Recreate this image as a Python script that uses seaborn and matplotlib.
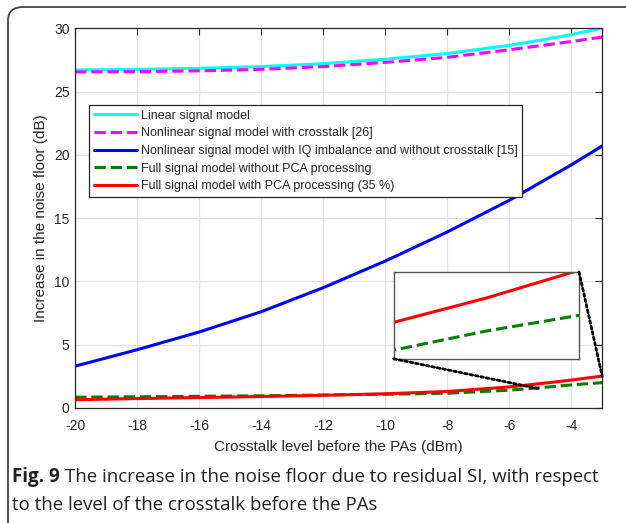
import numpy as np
import pandas as pd
import matplotlib
matplotlib.use("Agg")
import matplotlib.pyplot as plt
from matplotlib.patches import FancyBboxPatch, ConnectionPatch
import seaborn as sns

# -------------------------
# data
# -------------------------
crosstalk = [-20, -18, -16, -14, -12, -10, -8, -6, -5, -4, -3]
linear_model = [26.7, 26.75, 26.83, 26.97, 27.2, 27.55, 28.0, 28.65, 29.05, 29.5, 30.0]
nonlin_crosstalk = [26.55, 26.57, 26.63, 26.75, 26.97, 27.3, 27.7, 28.3, 28.62, 28.95, 29.3]
nonlin_iq = [3.3, 4.6, 6.0, 7.6, 9.5, 11.6, 13.9, 16.4, 17.8, 19.2, 20.7]
full_no_pca = [0.85, 0.88, 0.92, 0.96, 1.02, 1.08, 1.16, 1.4, 1.6, 1.82, 2.0]
full_pca = [0.65, 0.74, 0.82, 0.9, 1.0, 1.12, 1.3, 1.66, 1.92, 2.2, 2.52]

labels = ["Linear signal model",
          "Nonlinear signal model with crosstalk [26]",
          "Nonlinear signal model with IQ imbalance and without crosstalk [15]",
          "Full signal model without PCA processing",
          "Full signal model with PCA processing (35 %)"]
colors = ["#00FFFF", "#FF00FF", "#0000FF", "#008000", "#FF0000"]
styles = ["-", "--", "-", "--", "-"]
series = [linear_model, nonlin_crosstalk, nonlin_iq, full_no_pca, full_pca]

xticks = list(range(-20, -3, 2))
yticks = [0, 5, 10, 15, 20, 25, 30]

# -------------------------
# figure
# -------------------------
sns.set_style("white")
plt.rcParams['font.family'] = ['Liberation Sans', 'DejaVu Sans']
plt.rcParams['axes.unicode_minus'] = False

fig = plt.figure(figsize=(6.26, 5.23), dpi=100)
ax = fig.add_axes([0.120, 0.220, 0.842, 0.726])

for vals, lab, c, ls in zip(series, labels, colors, styles):
    sns.lineplot(x=crosstalk, y=vals, ax=ax, color=c, linestyle=ls, lw=2.2, label=lab)

ax.set_xlim(-20, -3)
ax.set_ylim(0, 30)
ax.set_xticks(xticks)
ax.set_yticks(yticks)
ax.grid(True, color="#e3e3e3", lw=0.9)
ax.tick_params(direction="in", length=5, color="#262626", labelsize=10,
               top=True, right=True, labeltop=False, labelright=False)
ax.tick_params(axis="x", pad=8)
ax.tick_params(axis="y", pad=4)
for s in ax.spines.values():
    s.set_color("#262626")
    s.set_linewidth(0.9)
ax.set_xlabel("Crosstalk level before the PAs (dBm)", fontsize=11, labelpad=5)
ax.set_ylabel("Increase in the noise floor (dB)", fontsize=11, labelpad=4)

leg = ax.legend(loc="upper left", bbox_to_anchor=(0.027, 0.797), fontsize=9,
                frameon=True, fancybox=False, framealpha=1, handlelength=3.5,
                handletextpad=0.3, borderpad=0.35, labelspacing=0.45, borderaxespad=0)
leg.get_frame().set_edgecolor("#262626")
leg.get_frame().set_linewidth(0.9)

# inset zoom on the end of the two lowest curves
axins = fig.add_axes([0.629, 0.314, 0.296, 0.166])
for vals, c, ls in zip(series[3:], colors[3:], styles[3:]):
    sns.lineplot(x=crosstalk, y=vals, ax=axins, color=c, linestyle=ls, lw=2.2)
axins.set_xlim(-5, -3)
axins.set_ylim(1.5, 2.5)
axins.set_xticks([])
axins.set_yticks([])
axins.set_xlabel("")
axins.set_ylabel("")
for s in axins.spines.values():
    s.set_color("#555555")
    s.set_linewidth(1.0)

for xa, ya, xb, yb in [(0, 0, -5, 1.5), (1, 1, -3, 2.5)]:
    con = ConnectionPatch(xyA=(xa, ya), coordsA=axins.transAxes,
                          xyB=(xb, yb), coordsB=ax.transData,
                          color="black", linestyle=(0, (1, 1)), lw=2.0)
    fig.add_artist(con)

# page frame and caption
frame = FancyBboxPatch((8 / 626, -0.1), 1.2, (523 - 7) / 523 + 0.1,
                       boxstyle="round,pad=0,rounding_size=0.025",
                       transform=fig.transFigure, fill=False,
                       edgecolor="#444444", lw=1.3)
fig.add_artist(frame)

cap_color = "#231f20"
t1 = fig.text(12 / 626, 1 - 477 / 523, "Fig. 9", fontsize=13.5, weight="bold",
              family="Open Sans", color=cap_color, va="center")
fig.canvas.draw()
bb = t1.get_window_extent()
fig.text(bb.x1 / fig.bbox.width + 0.008, 1 - 477 / 523,
         "The increase in the noise floor due to residual SI, with respect",
         fontsize=13.4, family="Open Sans", color=cap_color, va="center")
fig.text(12 / 626, 1 - 505 / 523, "to the level of the crosstalk before the PAs",
         fontsize=13.4, family="Open Sans", color=cap_color, va="center")

fig.savefig("out.png", dpi=100)
